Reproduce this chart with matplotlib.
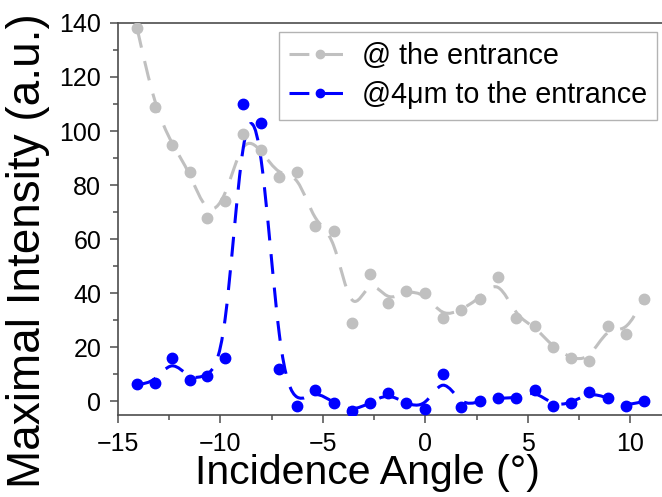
import matplotlib
matplotlib.use("Agg")
import matplotlib.pyplot as plt
import numpy as np
from matplotlib.path import Path
from matplotlib.patches import PathPatch
from matplotlib.lines import Line2D

plt.rcParams['font.family'] = ['Liberation Sans', 'DejaVu Sans']

# Data
angle = [-14.06, -13.2, -12.36, -11.5, -10.65, -9.76, -8.9, -8.0, -7.12, -6.25,
         -5.37, -4.47, -3.58, -2.72, -1.84, -0.96, 0.0, 0.86, 1.76, 2.65,
         3.55, 4.44, 5.33, 6.23, 7.1, 8.0, 8.9, 9.77, 10.65]
entrance = [138, 109, 95, 85, 68, 74, 99, 93, 83, 85,
            65, 63, 29, 47, 36.5, 41, 40, 31, 34, 38,
            46, 31, 28, 20, 16, 15, 28, 25, 38]
at_4um = [6.3, 7, 16, 8, 9.3, 16, 110, 103, 12, -1.7,
          4.4, -0.7, -3.6, -0.7, 3.2, -0.7, -2.7, 10.2, -2, 0.1,
          1.4, 1.1, 4.4, -1.7, -0.7, 3.4, 1.4, -1.7, 0.1]
labels = ["@ the entrance", "@4\u03bcm to the entrance"]
colors = ["#c0c0c0", "#0000ff"]


def bspline_path(x, y):
    # uniform cubic B-spline (clamped ends) written as bezier segments
    p = np.column_stack([x, y]).astype(float)
    p = np.vstack([p[0], p[0], p, p[-1], p[-1]])
    verts, codes = [], []
    for i in range(len(p) - 3):
        p0, p1, p2, p3 = p[i:i + 4]
        if i == 0:
            verts.append((p0 + 4 * p1 + p2) / 6)
            codes.append(Path.MOVETO)
        verts += [(2 * p1 + p2) / 3, (p1 + 2 * p2) / 3, (p1 + 4 * p2 + p3) / 6]
        codes += [Path.CURVE4] * 3
    return Path(verts, codes)


fig = plt.figure(figsize=(6.62, 4.97), dpi=100)
ax = fig.add_axes([0.178, 0.165, 0.822, 0.789])

dash = (0, (6.5, 4.5))
handles = []
for ys, c, lab in zip([entrance, at_4um], colors, labels):
    patch = PathPatch(bspline_path(angle, ys), facecolor='none', edgecolor=c,
                      lw=2.2, linestyle=dash, capstyle='butt', zorder=2)
    ax.add_patch(patch)
    ax.plot(angle, ys, 'o', color=c, ms=7.5, mec=c, zorder=3)
    handles.append(Line2D([], [], color=c, lw=2.2, linestyle=dash,
                          marker='o', ms=7.5, dash_capstyle='butt'))

ax.set_xlim(-15, 11.55)
ax.set_ylim(-5, 140)
ax.set_xticks([-15, -10, -5, 0, 5, 10])
ax.set_yticks(np.arange(0, 141, 20))
ax.set_xticks(np.arange(-12.5, 11, 5), minor=True)
ax.set_yticks(np.arange(10, 131, 20), minor=True)

for s in ['left', 'bottom', 'top']:
    ax.spines[s].set_color('#4d4d4d')
    ax.spines[s].set_linewidth(1.2)
ax.spines['right'].set_visible(False)
ax.tick_params(which='both', direction='out', color='#4d4d4d', width=1.1,
               labelsize=18, top=False, right=False)
ax.tick_params(which='major', length=6, pad=6)
ax.tick_params(which='minor', length=3.5)

ax.set_xlabel("Incidence Angle (\u00b0)", fontsize=29.5)
ax.set_ylabel("Maximal Intensity (a.u.)", fontsize=33)
ax.xaxis.set_label_coords(0.458, -0.1)
ax.yaxis.set_label_coords(-0.124, 0.42)

leg = ax.legend(handles, labels, loc='upper right', bbox_to_anchor=(0.991, 0.977),
                borderaxespad=0, fontsize=20.7, handlelength=2.2, handletextpad=0.35,
                markerscale=0.8, fancybox=False, labelspacing=0.4, borderpad=0.35)
leg.get_frame().set_edgecolor('#a0a0a0')
leg.get_frame().set_linewidth(1.0)

fig.savefig("out.png", dpi=100)
